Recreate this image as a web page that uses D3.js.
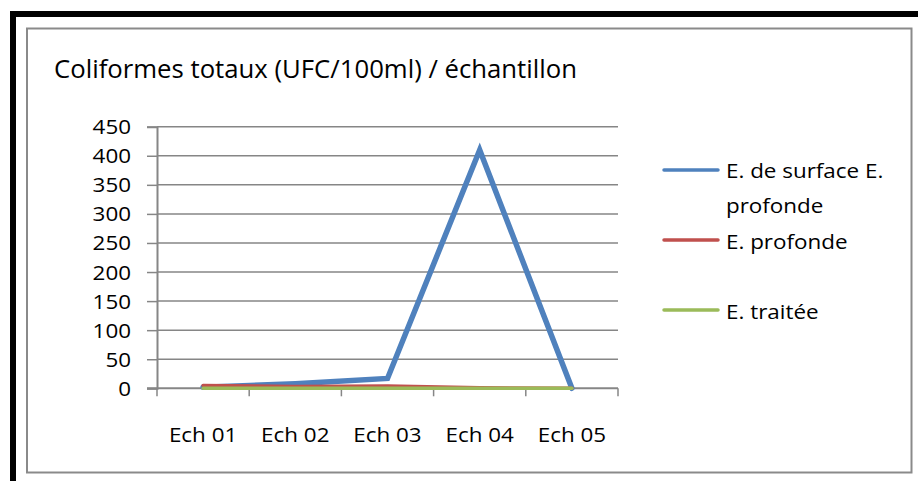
<!DOCTYPE html>
<html>
<head>
<meta charset="utf-8">
<script src="https://cdn.jsdelivr.net/npm/d3@7"></script>
<style>
  html, body { margin: 0; padding: 0; background: #fff; }
  svg { display: block; }
  text { font-family: "Open Sans", "DejaVu Sans", sans-serif; fill: #000; }
</style>
</head>
<body>
<svg id="chart" width="918" height="481"></svg>
<script>
// Samples and measured counts
const categories = ["Ech 01", "Ech 02", "Ech 03", "Ech 04", "Ech 05"];
const surfaceValues = [2, 8, 17, 410, 0];
const profondeValues = [5, 3, 4, 1, 0];
const traiteeValues = [0, 0, 0, 0, 0];
const yTicks = [0, 50, 100, 150, 200, 250, 300, 350, 400, 450];
const seriesNames = ["E. de surface E. profonde", "E. profonde", "E. traitée"];
const seriesColors = ["#4F81BD", "#C0504D", "#9BBB59"];

const series = [
  { name: seriesNames[0], values: surfaceValues, color: seriesColors[0], width: 5.5 },
  { name: seriesNames[1], values: profondeValues, color: seriesColors[1], width: 3.5 },
  { name: seriesNames[2], values: traiteeValues, color: seriesColors[2], width: 3.5 }
];

// Widen text slightly so it keeps the proportions of the original typeface
const WIDEN = 1.12;
function widen(sel) {
  sel.each(function () {
    const w = this.getComputedTextLength();
    d3.select(this).attr("textLength", w * WIDEN).attr("lengthAdjust", "spacingAndGlyphs");
  });
}

const svg = d3.select("#chart");

// Outer black frame (top and left edges)
svg.append("rect").attr("x", 10).attr("y", 11).attr("width", 908).attr("height", 6).attr("fill", "#000");
svg.append("rect").attr("x", 10).attr("y", 11).attr("width", 6).attr("height", 470).attr("fill", "#000");

// Chart area border
svg.append("rect").attr("x", 27).attr("y", 28.5).attr("width", 884.5).attr("height", 444)
  .attr("fill", "#fff").attr("stroke", "#8a8a8a").attr("stroke-width", 2);

// Title
svg.append("text").attr("x", 54).attr("y", 78)
  .attr("font-size", 26).attr("textLength", 523).attr("lengthAdjust", "spacingAndGlyphs")
  .text("Coliformes totaux (UFC/100ml) / échantillon");

const plot = { left: 157, right: 618, top: 126.7, bottom: 388.3 };

const x = d3.scaleBand().domain(categories).range([plot.left, plot.right]).padding(0);
const y = d3.scaleLinear().domain([0, 450]).range([plot.bottom, plot.top]);

// Horizontal gridlines
svg.append("g").selectAll("line").data(yTicks.filter(d => d > 0)).join("line")
  .attr("x1", plot.left).attr("x2", plot.right)
  .attr("y1", d => y(d)).attr("y2", d => y(d))
  .attr("stroke", "#868686").attr("stroke-width", 1.5);

// Y axis
const yAxis = svg.append("g").attr("transform", `translate(${plot.left},0)`)
  .call(d3.axisLeft(y).tickValues(yTicks).tickSize(10).tickPadding(16).tickFormat(d3.format("d")));
yAxis.select(".domain").attr("stroke", "#868686").attr("stroke-width", 2);
yAxis.selectAll(".tick line").attr("stroke", "#868686").attr("stroke-width", 1.5);
yAxis.selectAll(".tick text").attr("font-size", 20).attr("fill", "#000")
  .attr("font-family", "'Open Sans', sans-serif").attr("dy", "0.35em")
  .call(widen);

// X axis with ticks at category boundaries
const boundaries = categories.map(c => x(c)).concat([plot.right]);
svg.append("line").attr("x1", plot.left - 10).attr("x2", plot.right)
  .attr("y1", plot.bottom).attr("y2", plot.bottom)
  .attr("stroke", "#868686").attr("stroke-width", 2);
svg.append("g").selectAll("line").data(boundaries).join("line")
  .attr("x1", d => d).attr("x2", d => d)
  .attr("y1", plot.bottom).attr("y2", plot.bottom + 8)
  .attr("stroke", "#868686").attr("stroke-width", 1.5);
svg.append("g").selectAll("text").data(categories).join("text")
  .attr("x", d => x(d) + x.bandwidth() / 2).attr("y", 442)
  .attr("text-anchor", "middle").attr("font-size", 20)
  .text(d => d)
  .call(widen);

// Series lines
const line = d3.line()
  .x((d, i) => x(categories[i]) + x.bandwidth() / 2)
  .y(d => y(d));

svg.append("g").selectAll("path").data(series).join("path")
  .attr("d", s => line(s.values))
  .attr("fill", "none")
  .attr("stroke", d => d.color)
  .attr("stroke-width", d => d.width)
  .attr("stroke-linejoin", "miter")
  .attr("stroke-linecap", "round");

// Legend
const legend = [
  { color: seriesColors[0], lineY: 170, lines: ["E. de surface E.", "profonde"], textY: 178 },
  { color: seriesColors[1], lineY: 240, lines: ["E. profonde"], textY: 249 },
  { color: seriesColors[2], lineY: 310, lines: ["E. traitée"], textY: 319 }
];
const lg = svg.append("g");
legend.forEach(item => {
  lg.append("line").attr("x1", 664).attr("x2", 718)
    .attr("y1", item.lineY).attr("y2", item.lineY)
    .attr("stroke", item.color).attr("stroke-width", 3.5).attr("stroke-linecap", "round");
  item.lines.forEach((l, i) => {
    lg.append("text").attr("x", 726).attr("y", item.textY + i * 35)
      .attr("font-size", 20).text(l).call(widen);
  });
});
</script>
</body>
</html>
